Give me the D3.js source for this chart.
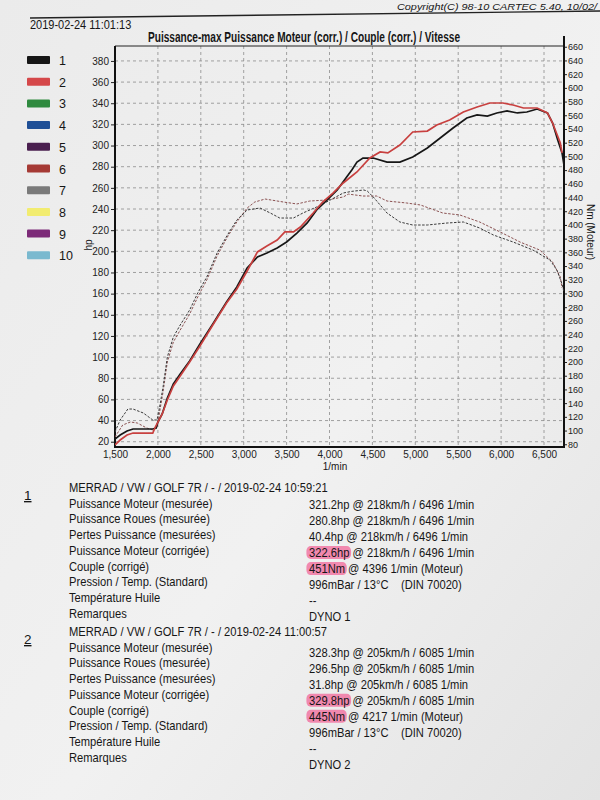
<!DOCTYPE html>
<html lang="fr">
<head>
<meta charset="UTF-8">
<title>Puissance-max Puissance Moteur (corr.) / Couple (corr.) / Vitesse</title>
<script src="https://cdn.jsdelivr.net/npm/d3@7"></script>
<style>
  body { margin: 0; background: #ececec; }
  svg { display: block; font-family: "Liberation Sans", Arial, sans-serif; }
  .grid line { stroke: #8c8c8c; stroke-width: 0.8; stroke-dasharray: 3,3; }
  .txt { fill: #161616; white-space: pre; }
</style>
</head>
<body>
<svg width="600" height="800"></svg>
<script>
  // run 1 (noir) : régime 1/min et puissance hp
  const rpm1 = [1500,1560,1640,1710,1850,1940,1980,2000,2050,2110,2180,2260,2370,2490,2640,2800,2920,3040,3160,3270,3390,3500,3620,3740,3850,3970,4090,4200,4260,4320,4390,4510,4670,4820,4970,5140,5290,5440,5600,5720,5840,5950,6070,6190,6300,6420,6540,6600,6660,6710,6733];
  const hp1 = [22.6,26.3,30.1,32.0,32.0,32.0,33.0,38.6,46.2,61.3,74.6,84.0,96.3,112.4,131.3,152.1,166.3,184.2,194.6,198.4,203.1,208.8,217.3,226.8,239.1,248.5,258.0,270.3,276.9,284.4,288.2,288.2,284.4,284.4,289.2,297.7,307.1,316.6,326.0,328.9,327.9,330.8,332.7,330.8,331.7,334.5,330.8,321.3,305.2,293.0,281.6];

  // run 2 (rouge)
  const rpm2 = [1500,1560,1640,1710,1850,1940,1970,2000,2050,2110,2180,2260,2370,2490,2640,2800,2920,3040,3110,3160,3270,3390,3480,3580,3660,3810,3920,4040,4160,4320,4470,4590,4680,4820,4970,5140,5250,5400,5560,5720,5870,6020,6140,6260,6420,6540,6600,6690,6710];
  const hp2 = [16.9,21.6,26.3,28.2,28.2,28.2,33.9,38.6,46.2,59.4,72.7,82.1,95.4,110.5,130.3,151.1,164.4,181.4,191.8,199.4,205.0,210.7,218.3,218.3,223.0,236.2,246.6,255.1,264.6,275.0,288.2,293.9,293.0,300.5,312.8,313.7,319.4,324.1,331.7,336.4,340.2,340.2,338.3,335.5,335.5,330.8,321.3,302.4,293.0];

  // couple (Nm) en pointillés
  const rpmT1 = [1500,1560,1650,1710,1830,1940,1990,2020,2060,2110,2180,2260,2370,2470,2570,2690,2810,2920,3040,3190,3310,3420,3580,3690,3850,4010,4160,4260,4400,4440,4510,4670,4820,4970,5140,5370,5560,5750,5910,6140,6370,6570,6650,6710,6733];
  const nm1 = [97.9,115.4,131.4,131.4,125.6,115.4,115.4,134.4,163.5,207.3,236.5,254.0,275.9,302.1,324.0,359.0,385.3,407.2,421.8,424.7,417.4,410.1,410.1,417.4,426.2,436.4,446.6,449.0,451.0,449.5,440.8,417.4,404.3,399.9,399.9,402.8,404.3,395.5,385.3,375.1,363.4,348.8,334.2,313.8,302.1];
  const rpmT2 = [1500,1590,1680,1760,1870,1940,1990,2020,2060,2110,2180,2260,2370,2470,2570,2690,2810,2920,3040,3130,3250,3460,3620,3770,3970,4160,4220,4390,4550,4670,4900,5060,5320,5520,5750,5990,6220,6450,6600,6690,6710];
  const nm2 = [90.6,108.1,112.5,111.0,103.7,100.8,105.2,127.1,156.2,200.0,229.2,246.7,270.0,296.3,319.7,354.7,382.4,404.3,424.7,433.5,437.8,433.5,430.6,434.9,436.4,440.8,445.0,442.2,442.2,434.9,432.0,429.1,417.4,414.5,404.3,389.7,375.1,363.4,345.9,324.0,308.0];

  // graduations
  const rpmTicks = [1500,2000,2500,3000,3500,4000,4500,5000,5500,6000,6500];
  const hpTicks = d3.range(20, 381, 20);
  const nmTicks = d3.range(80, 661, 20);

  // légende
  const legendKeys = ["1","2","3","4","5","6","7","8","9","10"];
  const legendColors = ["#161616","#d5484a","#2f8a3f","#1f4f96","#4a1f4f","#a53a35","#7a7a7a","#f2ec70","#7c2a78","#7ab9cf"];

  // tableau des résultats
  const rowLabels = ["Puissance Moteur (mesurée)","Puissance Roues (mesurée)","Pertes Puissance (mesurées)","Puissance Moteur (corrigée)","Couple (corrigé)","Pression / Temp. (Standard)","Température Huile","Remarques"];
  const run1Header = "MERRAD / VW / GOLF 7R / - / 2019-02-24 10:59:21";
  const run1Values = ["321.2hp @ 218km/h / 6496 1/min","280.8hp @ 218km/h / 6496 1/min","40.4hp @ 218km/h / 6496 1/min","322.6hp @ 218km/h / 6496 1/min","451Nm @ 4396 1/min (Moteur)","996mBar / 13°C    (DIN 70020)","--","DYNO 1"];
  const run2Header = "MERRAD / VW / GOLF 7R / - / 2019-02-24 11:00:57";
  const run2Values = ["328.3hp @ 205km/h / 6085 1/min","296.5hp @ 205km/h / 6085 1/min","31.8hp @ 205km/h / 6085 1/min","329.8hp @ 205km/h / 6085 1/min","445Nm @ 4217 1/min (Moteur)","996mBar / 13°C    (DIN 70020)","--","DYNO 2"];
  const highlighted = ["322.6hp","451Nm","329.8hp","445Nm"];

  const svg = d3.select("svg");

  // fond papier
  const defs = svg.append("defs");
  const grad = defs.append("linearGradient").attr("id", "paper")
    .attr("x1", 0).attr("y1", 0).attr("x2", 1).attr("y2", 1);
  grad.append("stop").attr("offset", "0%").attr("stop-color", "#ebebeb");
  grad.append("stop").attr("offset", "55%").attr("stop-color", "#f1f1f1");
  grad.append("stop").attr("offset", "100%").attr("stop-color", "#e3e3e3");
  svg.append("rect").attr("width", 600).attr("height", 800).attr("fill", "url(#paper)");

  // en-tête
  svg.append("path").attr("d", "M30,18 Q320,15 600,11")
    .attr("fill", "none").attr("stroke", "#222").attr("stroke-width", 1.4);
  svg.append("text").attr("class", "txt").attr("x", 397).attr("y", 10)
    .attr("font-size", 9).attr("font-style", "italic")
    .attr("textLength", 200).attr("lengthAdjust", "spacingAndGlyphs")
    .text("Copyright(C) 98-10 CARTEC 5.40, 10/02/");
  svg.append("text").attr("class", "txt").attr("transform", "translate(30,29) scale(0.88,1)")
    .attr("font-size", 12.5).text("2019-02-24 11:01:13");
  svg.append("text").attr("class", "txt").attr("x", 148).attr("y", 42)
    .attr("font-size", 14).attr("font-weight", "bold")
    .attr("textLength", 312).attr("lengthAdjust", "spacingAndGlyphs")
    .text("Puissance-max Puissance Moteur (corr.) / Couple (corr.) / Vitesse");

  // zone du graphe
  const plot = { left: 115, right: 564, top: 46, bottom: 447 };
  const x = d3.scaleLinear().domain([1500, 6733]).range([plot.left, plot.right]);
  const yHp = d3.scaleLinear().domain([15, 396]).range([plot.bottom, 44]);
  const yNm = d3.scaleLinear().domain([76, 664]).range([plot.bottom, 44]);

  // grille pointillée
  svg.append("g").attr("class", "grid").selectAll("line").data(hpTicks).join("line")
    .attr("x1", plot.left).attr("x2", plot.right)
    .attr("y1", d => yHp(d)).attr("y2", d => yHp(d));
  svg.append("g").attr("class", "grid").selectAll("line").data(rpmTicks.filter(d => d > 1500)).join("line")
    .attr("x1", d => x(d)).attr("x2", d => x(d))
    .attr("y1", plot.top).attr("y2", plot.bottom);

  // axes
  const axL = svg.append("g").attr("transform", `translate(${plot.left},0)`)
    .call(d3.axisLeft(yHp).tickValues(hpTicks).tickSize(4).tickPadding(2));
  const axR = svg.append("g").attr("transform", `translate(${plot.right},0)`)
    .call(d3.axisRight(yNm).tickValues(nmTicks).tickSize(3).tickPadding(1));
  const axB = svg.append("g").attr("transform", `translate(0,${plot.bottom})`)
    .call(d3.axisBottom(x).tickValues(rpmTicks).tickFormat(d3.format(",")).tickSize(0).tickPadding(4));
  [axL, axR, axB].forEach(a => {
    a.select(".domain").remove();
    a.attr("font-family", null);
    a.selectAll("text").attr("fill", "#222");
    a.selectAll("line").attr("stroke", "#222");
  });
  axL.attr("font-size", 10);
  axR.attr("font-size", 9);
  axB.attr("font-size", 10);

  // cadre
  svg.append("line").attr("x1", plot.left).attr("x2", plot.right).attr("y1", plot.top).attr("y2", plot.top)
    .attr("stroke", "#222").attr("stroke-width", 1);
  svg.append("path")
    .attr("d", `M${plot.left},${plot.top}V${plot.bottom}H${plot.right}V${plot.top - 10}`)
    .attr("fill", "none").attr("stroke", "#111").attr("stroke-width", 2);

  // titres des axes
  svg.append("text").attr("class", "txt").attr("font-size", 10).attr("text-anchor", "middle")
    .attr("transform", "translate(92,245) rotate(-90)").text("hp");
  svg.append("text").attr("class", "txt").attr("font-size", 10).attr("text-anchor", "middle")
    .attr("transform", "translate(587,232) rotate(90)").text("Nm (Moteur)");
  svg.append("text").attr("class", "txt").attr("font-size", 10).attr("text-anchor", "middle")
    .attr("x", 335).attr("y", 470).text("1/min");

  // courbes
  defs.append("clipPath").attr("id", "clip").append("rect")
    .attr("x", plot.left).attr("y", plot.top).attr("width", plot.right - plot.left).attr("height", plot.bottom - plot.top);
  const curves = svg.append("g").attr("clip-path", "url(#clip)");
  const lineHp = d3.line().x(d => x(d[0])).y(d => yHp(d[1]));
  const lineNm = d3.line().x(d => x(d[0])).y(d => yNm(d[1]));

  curves.append("path").datum(d3.zip(rpmT2, nm2)).attr("d", lineNm)
    .attr("fill", "none").attr("stroke", "#8b5252").attr("stroke-width", 1).attr("stroke-dasharray", "2.5,1.5");
  curves.append("path").datum(d3.zip(rpmT1, nm1)).attr("d", lineNm)
    .attr("fill", "none").attr("stroke", "#3a3a3a").attr("stroke-width", 1).attr("stroke-dasharray", "2.5,1.5");
  curves.append("path").datum(d3.zip(rpm1, hp1)).attr("d", lineHp)
    .attr("fill", "none").attr("stroke", legendColors[0]).attr("stroke-width", 1.7);
  curves.append("path").datum(d3.zip(rpm2, hp2)).attr("d", lineHp)
    .attr("fill", "none").attr("stroke", "#c8403f").attr("stroke-width", 1.7);

  // légende
  const leg = svg.append("g").selectAll("g").data(legendKeys).join("g")
    .attr("transform", (d, i) => `translate(0,${60 + i * 21.7})`);
  leg.append("rect").attr("x", 27).attr("y", -4).attr("width", 23).attr("height", 8).attr("rx", 1)
    .attr("fill", (d, i) => legendColors[i]);
  leg.append("text").attr("class", "txt").attr("x", 59).attr("y", 5).attr("font-size", 12.5)
    .attr("fill", "#333").text(d => d);

  // blocs de résultats
  function block(num, header, values, y0, valueShift) {
    const g = svg.append("g");
    g.append("text").attr("class", "txt").attr("x", 24).attr("y", y0 + 8)
      .attr("font-size", 13.5).attr("text-decoration", "underline").text(num);
    g.append("text").attr("class", "txt").attr("transform", `translate(69,${y0}) scale(0.86,1)`)
      .attr("font-size", 13).text(header);
    rowLabels.forEach((label, i) => {
      const y = y0 + 15.7 * (i + 1);
      g.append("text").attr("class", "txt").attr("transform", `translate(69,${y}) scale(0.86,1)`)
        .attr("font-size", 13).text(label);
      const vg = g.append("g").attr("transform", `translate(309,${y + valueShift(i)}) scale(0.86,1)`);
      const hl = vg.append("rect");
      const t = vg.append("text").attr("class", "txt").attr("font-size", 13).text(values[i]);
      const token = highlighted.find(h => values[i].startsWith(h));
      if (token) {
        const w = t.node().getSubStringLength(0, token.length);
        hl.attr("x", -3).attr("y", -11).attr("width", w + 5).attr("height", 13).attr("rx", 5)
          .attr("fill", "#f2679a").attr("opacity", 0.75);
        t.raise();
      } else {
        hl.remove();
      }
    });
  }
  block("1", run1Header, run1Values, 492, i => 1 + i * 0.4);
  block("2", run2Header, run2Values, 636, i => 5 + i * 0.3);
</script>
</body>
</html>
